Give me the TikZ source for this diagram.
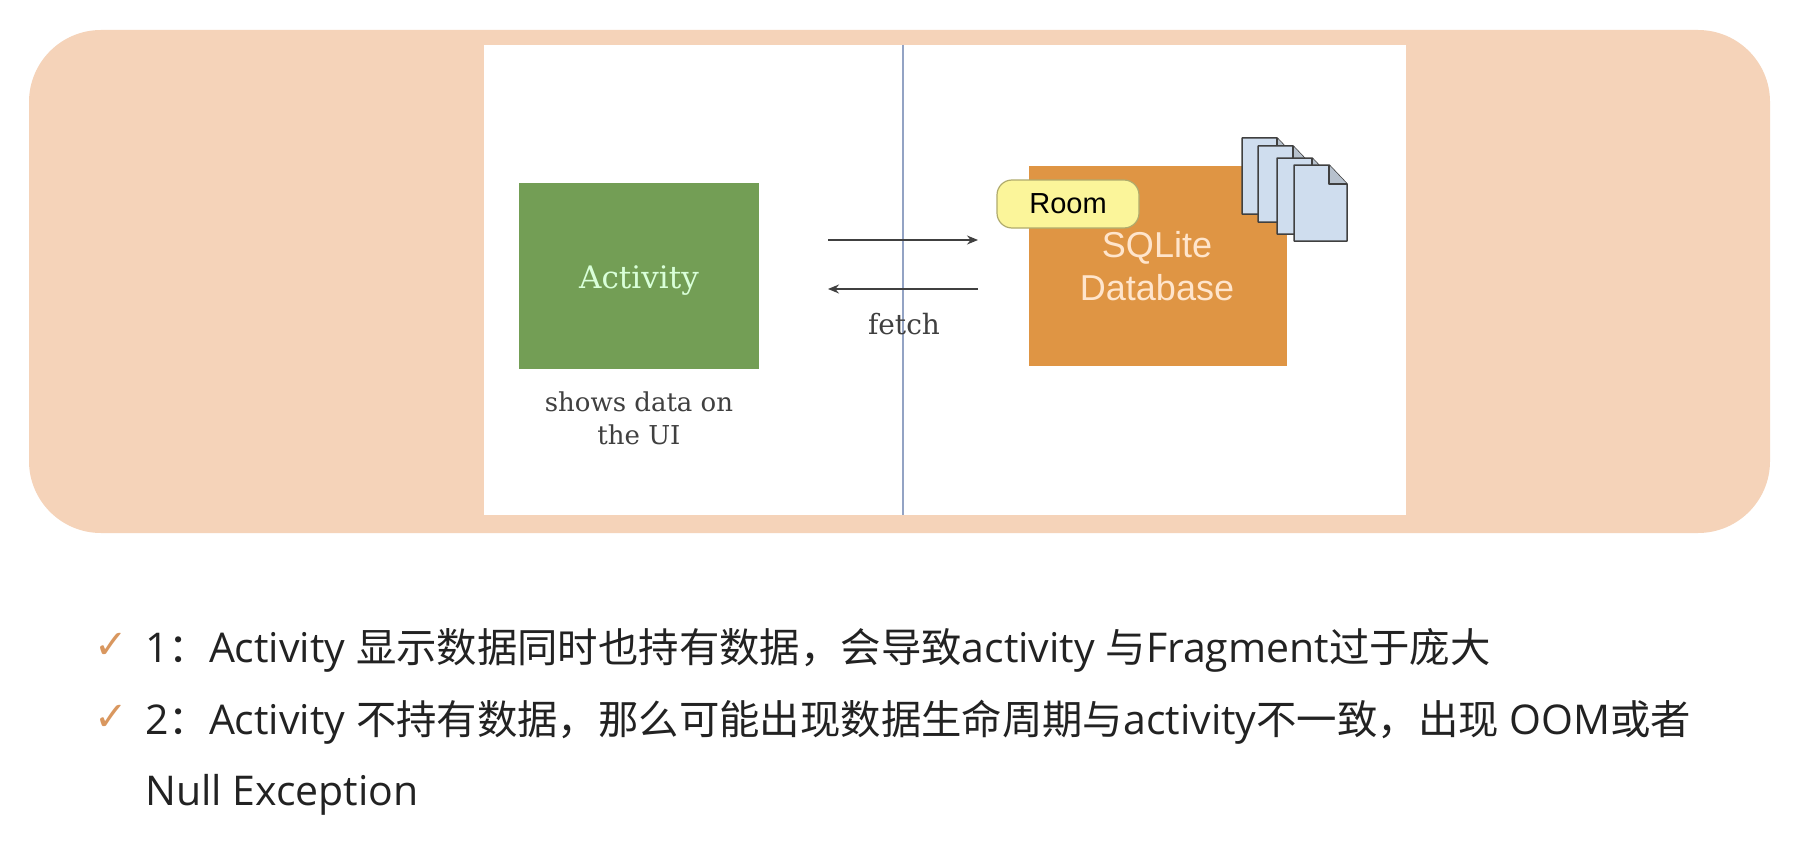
\documentclass[tikz,border=0pt]{standalone}
\usepackage{fontspec}
\setmainfont{Open Sans}
\newfontfamily\cjk[Scale=0.985]{Noto Sans CJK SC}
\newfontfamily\slab{DejaVu Serif}
\newfontfamily\arial{Liberation Sans}
\newfontfamily\symb{DejaVu Sans}
\usetikzlibrary{arrows.meta,positioning}
\definecolor{panelc}{HTML}{F5D3B9}
\definecolor{greenc}{HTML}{739E55}
\definecolor{orangec}{HTML}{DF9544}
\definecolor{roomc}{HTML}{FBF59A}
\definecolor{docc}{HTML}{CFDDEE}
\definecolor{checkc}{HTML}{D9975F}
\definecolor{textc}{HTML}{222222}
\definecolor{divc}{HTML}{93A3C4}

\begin{document}
\begin{tikzpicture}[
    x=1pt, y=-1pt,
    block/.style={inner sep=0pt, minimum width=#1},
    note/.style={font=\slab\fontsize{26}{33}\selectfont, text=black!75, align=center, inner sep=0pt},
    item/.style={font=\fontsize{41}{41}\selectfont, text=textc, anchor=base west, inner sep=0pt},
    tick/.style={font=\symb\fontsize{40}{40}\selectfont, text=checkc, anchor=base west, inner sep=0pt},
    arrow/.style={-{Stealth[length=11pt,width=9pt]}, line width=1.4pt, draw=black!75},
    sheetdoc/.style={draw=black!75, line width=1.5pt, fill=docc, line join=round}
  ]
    \useasboundingbox (0,0) rectangle (1820,864);
    \fill[white] (0,0) rectangle (1820,864);

    \node[block=1741pt, minimum height=503pt, fill=panelc, rounded corners=72pt] (panel) at (899.5,281.5) {};
    \node[block=922pt, minimum height=470pt, fill=white] (sheet) at (945,280) {};

    \coordinate (divtop) at (903,45);
    \coordinate (divbot) at (903,515);
    \draw[line width=1.6pt, draw=divc] (divtop) -- (divbot);

    \node[block=240pt, minimum height=186pt, fill=greenc, text=green!15!white, text height=24pt, text depth=0pt,
      font=\slab\fontsize{31}{31}\selectfont] (activity) at (639,276) {Activity};
    \node[note, below=22pt of activity] (activitynote) {shows data on\\the UI};

    \node[block=258pt, minimum height=200pt, fill=orangec] (sqlite) at (1158,266) {};
    \node[text=orange!20!white, font=\arial\fontsize{36}{43}\selectfont, align=center, inner sep=0pt] (sqlitetext) at (1157,266) {SQLite\\Database};
    \node[block=142pt, minimum height=48pt, fill=roomc, draw=roomc!70!black, line width=1.2pt, rounded corners=15pt,
      font=\arial\fontsize{29}{29}\selectfont] (room) at (1068,204) {Room};

    \foreach \px/\py in {1242/138, 1258/146, 1277/158, 1294/165} {
      \draw[sheetdoc] (\px,\py) -- ++(35,0) -- ++(18,19) -- ++(0,57) -- ++(-53,0) -- cycle;
      \draw[sheetdoc, fill=docc!70!gray] (\px+35,\py) -- ++(0,19) -- ++(18,0);
    }

    \coordinate (sendleft) at (828,240);
    \coordinate (sendright) at (978,240);
    \coordinate (fetchright) at (978,289);
    \coordinate (fetchleft) at (828,289);
    \draw[arrow] (sendleft) -- (sendright);
    \draw[arrow] (fetchright) -- (fetchleft);
    \node[note, font=\slab\fontsize{28}{28}\selectfont, below=24pt of fetchleft, xshift=76pt] (fetch) {fetch};

    \node[tick] (tickone) at (94,658) {✓};
    \node[tick] (ticktwo) at (94,730) {✓};
    \node[item] (itemone) at (145,662) {1{\cjk：}Activity {\cjk 显示数据同时也持有数据，会导致}activity {\cjk 与}Fragment{\cjk 过于庞大}};
    \node[item] (itemtwo) at (145,734) {2{\cjk：}Activity {\cjk 不持有数据，那么可能出现数据生命周期与}activity{\cjk 不一致，出现} OOM{\cjk 或者}};
    \node[item] (itemthree) at (145,805) {Null Exception};
  \end{tikzpicture}
\end{document}
